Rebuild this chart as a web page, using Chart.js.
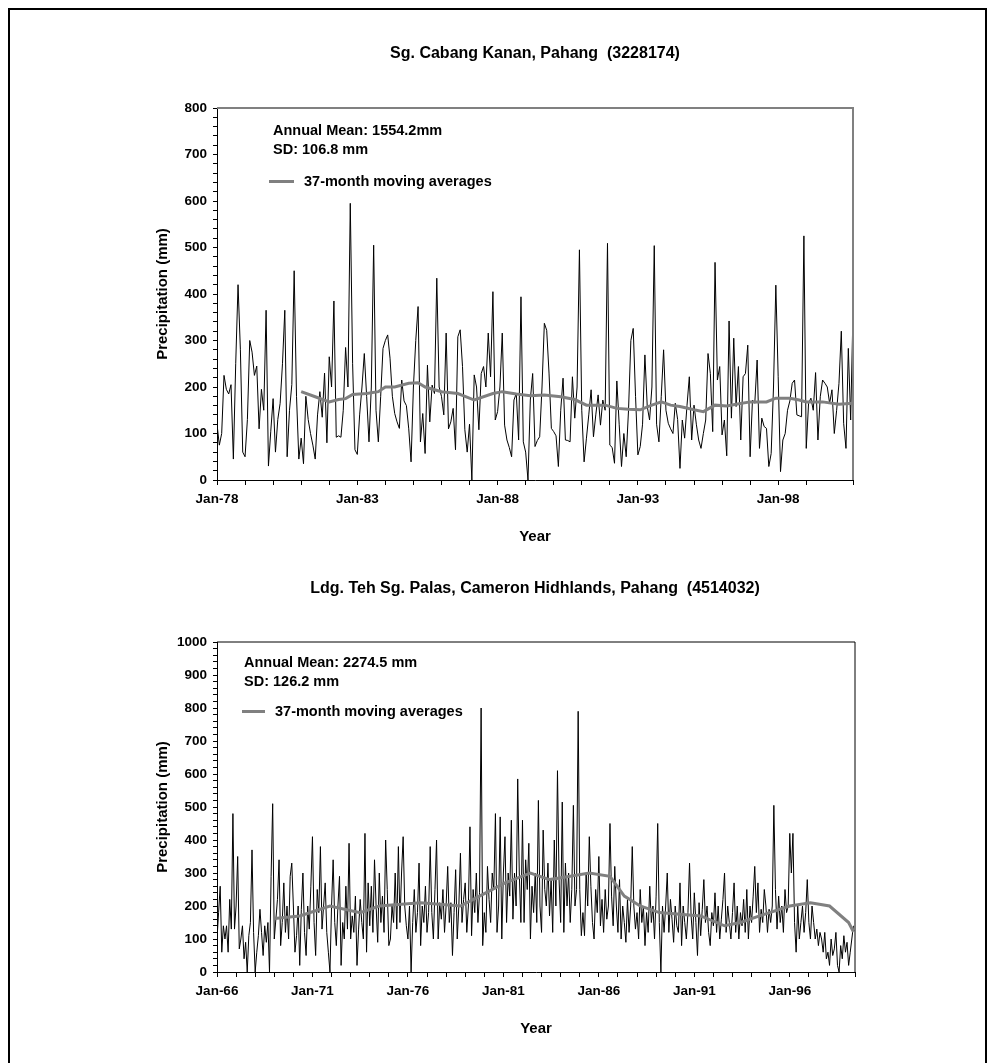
<!DOCTYPE html>
<html>
<head>
<meta charset="utf-8">
<script src="https://cdn.jsdelivr.net/npm/chart.js@4.4.0/dist/chart.umd.min.js"></script>
<style>
  body { margin: 0; background: #fff; }
  #page { position: relative; width: 995px; height: 1063px; overflow: hidden; font-family: "Liberation Sans", Arial, sans-serif; font-weight: bold; color: #000; }
  #frame { position: absolute; left: 8px; top: 8px; width: 979px; height: 1100px; border: 2px solid #000; box-sizing: border-box; }
  canvas { position: absolute; left: 0; }
  .title { position: absolute; left: 217px; width: 636px; text-align: center; font-size: 16px; line-height: 19px; white-space: pre; z-index: 2; }
  .note { position: absolute; font-size: 14.5px; line-height: 19px; z-index: 2; white-space: nowrap; }
  .key { display: inline-block; width: 25px; height: 3px; background: #808080; vertical-align: middle; margin-right: 10px; position: relative; top: -1px; }
</style>
</head>
<body>
<div id="page">
  <div id="frame"></div>
  <div class="title" style="top:43px">Sg. Cabang Kanan, Pahang  (3228174)</div>
  <div class="note" style="left:273px; top:121px">Annual Mean: 1554.2mm<br>SD: 106.8 mm</div>
  <div class="note" style="left:269px; top:172px"><span class="key"></span>37-month moving averages</div>
  <canvas id="topChart" width="995" height="560" style="top:0"></canvas>

  <div class="title" style="top:578px">Ldg. Teh Sg. Palas, Cameron Hidhlands, Pahang  (4514032)</div>
  <div class="note" style="left:244px; top:653px">Annual Mean: 2274.5 mm<br>SD: 126.2 mm</div>
  <div class="note" style="left:242px; top:702px"><span class="key" style="width:23px"></span>37-month moving averages</div>
  <canvas id="bottomChart" width="995" height="528" style="top:535px"></canvas>
</div>

<script>
// Sg. Cabang Kanan: monthly rainfall from Jan-78 (index = month number)
const topTickLabels = ['Jan-78', 'Jan-83', 'Jan-88', 'Jan-93', 'Jan-98'];
const topRain = [
  120, 75, 100, 225, 195, 185, 205, 45, 250, 420,
  280, 60, 50, 130, 300, 275, 225, 245, 110, 195,
  150, 365, 30, 105, 175, 60, 130, 165, 250, 365,
  50, 150, 205, 450, 180, 45, 90, 35, 180, 130,
  100, 75, 45, 140, 190, 135, 230, 80, 265, 200,
  385, 92, 95, 92, 150, 285, 200, 595, 250, 65,
  55, 140, 200, 272, 180, 82, 200, 505, 150, 82,
  180, 283, 300, 312, 262, 180, 143, 125, 111, 215,
  170, 160, 110, 39, 200, 300, 373, 82, 143, 57,
  247, 125, 204, 186, 434, 200, 180, 140, 316, 110,
  125, 154, 65, 308, 323, 244, 108, 60, 120, 0,
  226, 200, 108, 229, 244, 200, 316, 222, 405, 129,
  147, 200, 316, 118, 86, 70, 50, 172, 186, 86,
  394, 82, 60, 0, 172, 229, 72, 85, 93, 200,
  337, 322, 230, 111, 104, 95, 29, 150, 219, 86,
  85, 82, 222, 133, 200, 495, 150, 39, 90, 140,
  194, 93, 140, 183, 118, 172, 150, 509, 75, 70,
  36, 213, 120, 29, 100, 50, 150, 300, 326, 180,
  54, 72, 120, 269, 158, 129, 200, 504, 120, 82,
  180, 280, 150, 122, 110, 100, 165, 130, 25, 129,
  90, 160, 222, 86, 161, 120, 86, 68, 100, 129,
  272, 229, 104, 468, 215, 244, 97, 129, 52, 342,
  133, 305, 158, 244, 86, 222, 229, 290, 50, 172,
  165, 258, 68, 133, 115, 111, 29, 57, 200, 419,
  222, 18, 86, 100, 150, 170, 208, 215, 140, 138,
  136, 525, 68, 165, 176, 150, 231, 86, 179, 215,
  208, 200, 165, 194, 100, 150, 208, 320, 122, 68,
  283, 129, 362
];
const topAvgMonth = [36, 42, 48, 52, 55, 58, 64, 69, 72, 76, 82, 86, 89, 96, 103, 110, 118, 122, 128, 134,
  140, 147, 153, 158, 166, 171, 176, 181, 186, 190, 194, 198, 204, 208, 213, 218, 222, 228, 235, 239,
  245, 249, 252, 259, 266, 272];
const topAvgValue = [190, 179, 168, 173, 175, 184, 186, 190, 200, 200, 208, 209, 200, 190, 186, 172, 186, 190, 185, 181,
  183, 179, 173, 161, 161, 154, 152, 151, 161, 168, 161, 158, 151, 147, 161, 159, 163, 168, 168, 176,
  176, 172, 168, 168, 163, 165];

// Ldg. Teh Sg. Palas: monthly rainfall from Jan-66
const bottomTickLabels = ['Jan-66', 'Jan-71', 'Jan-76', 'Jan-81', 'Jan-86', 'Jan-91', 'Jan-96'];
const bottomRain = [
  100, 180, 260, 60, 140, 100, 140, 60, 220, 130,
  480, 130, 200, 350, 70, 100, 140, 40, 90, 0,
  110, 150, 370, 120, 0, 60, 110, 190, 120, 50,
  140, 90, 150, 0, 290, 510, 100, 160, 220, 340,
  80, 150, 270, 120, 200, 100, 290, 330, 200, 60,
  110, 200, 20, 190, 300, 120, 50, 200, 130, 260,
  410, 150, 50, 250, 180, 380, 130, 200, 270, 120,
  60, 0, 200, 340, 150, 80, 200, 290, 20, 150,
  100, 260, 130, 390, 100, 170, 120, 230, 20, 130,
  220, 150, 100, 420, 60, 270, 140, 260, 120, 340,
  200, 90, 300, 150, 230, 120, 400, 250, 80, 100,
  200, 150, 300, 130, 380, 150, 300, 410, 200, 140,
  100, 200, 0, 150, 250, 120, 180, 330, 80, 200,
  150, 260, 120, 180, 380, 180, 100, 250, 400, 100,
  210, 160, 250, 120, 200, 320, 150, 210, 50, 180,
  310, 100, 200, 360, 150, 220, 270, 120, 200, 440,
  110, 250, 180, 300, 150, 240, 800, 80, 180, 120,
  320, 220, 150, 300, 250, 480, 120, 200, 470, 100,
  300, 410, 150, 300, 230, 460, 160, 300, 200, 585,
  300, 150, 460, 150, 340, 250, 390, 100, 260, 180,
  300, 150, 520, 200, 120, 430, 250, 200, 330, 170,
  280, 120, 400, 200, 610, 280, 150, 515, 120, 330,
  200, 300, 150, 250, 505, 200, 250, 790, 250, 110,
  180, 110, 300, 200, 410, 260, 150, 100, 250, 180,
  350, 140, 220, 120, 250, 160, 200, 450, 230, 140,
  320, 200, 120, 280, 100, 200, 150, 90, 220, 120,
  200, 380, 200, 130, 180, 100, 250, 150, 200, 80,
  180, 120, 260, 150, 200, 100, 230, 450, 150, 0,
  200, 120, 200, 300, 120, 220, 160, 90, 200, 140,
  120, 270, 80, 200, 150, 100, 180, 330, 170, 100,
  240, 150, 50, 210, 110, 190, 280, 150, 200, 120,
  80, 180, 140, 240, 120, 200, 100, 160, 220, 300,
  120, 200, 150, 100, 180, 270, 120, 200, 100, 180,
  140, 220, 120, 250, 100, 200, 150, 230, 320, 180,
  270, 120, 190, 150, 250, 200, 120, 190, 150, 200,
  505, 250, 130, 230, 150, 200, 120, 250, 180, 200,
  420, 300, 420, 150, 60, 200, 100, 150, 200, 120,
  180, 280, 150, 100, 200, 150, 100, 130, 80, 120,
  100, 60, 120, 40, 60, 20, 100, 50, 70, 120,
  20, 0, 80, 40, 110, 60, 90, 20, 60, 100,
  140
];
const bottomAvgMonth = [36, 52, 71, 90, 102, 128, 153, 165, 181, 197, 209, 222, 234, 247, 256, 266, 278, 304, 319, 329, 341, 360, 373, 385, 397, 400];
const bottomAvgValue = [162, 170, 200, 180, 200, 210, 200, 230, 270, 300, 280, 290, 300, 290, 230, 200, 180, 170, 140, 150, 170, 200, 210, 200, 150, 122];

const fontFamily = '"Liberation Sans", Arial, sans-serif';

// top and right edges of the plot box
const boxPlugin = {
    id: 'box',
    afterDatasetsDraw(chart, args, opts) {
        const a = chart.chartArea;
        const c = chart.ctx;
        c.save();
        c.strokeStyle = opts.color;
        c.lineWidth = opts.width;
        c.beginPath();
        c.moveTo(a.left, a.top);
        c.lineTo(a.right, a.top);
        c.lineTo(a.right, a.bottom);
        c.stroke();
        c.restore();
    }
};

function makeChart(id, rain, avgMonth, avgValue, tickLabels, xMax, yMax, padding, boxColor, boxWidth) {
    const ctx = document.getElementById(id).getContext('2d');
    return new Chart(ctx, {
        type: 'line',
        data: {
            datasets: [
                {
                    data: avgMonth.map((m, i) => ({ x: m, y: avgValue[i] })),
                    borderColor: '#808080',
                    borderWidth: 3,
                    pointRadius: 0,
                    tension: 0,
                    order: 0
                },
                {
                    data: rain.map((v, i) => ({ x: i, y: v })),
                    borderColor: '#000',
                    borderWidth: 1,
                    pointRadius: 0,
                    tension: 0,
                    order: 1
                }
            ]
        },
        options: {
            responsive: false,
            animation: false,
            layout: { padding: padding },
            plugins: {
                legend: { display: false },
                tooltip: { enabled: false },
                box: { color: boxColor, width: boxWidth }
            },
            scales: {
                x: {
                    type: 'linear',
                    min: 0,
                    max: xMax,
                    ticks: {
                        stepSize: 12,
                        autoSkip: false,
                        maxRotation: 0,
                        padding: 6,
                        color: '#000',
                        font: { family: fontFamily, size: 13.5, weight: 'bold' },
                        callback: (v) => (v % 60 === 0 && tickLabels[v / 60]) ? tickLabels[v / 60] : ''
                    },
                    grid: { drawOnChartArea: false, tickLength: 5, color: '#000' },
                    border: { color: '#000', width: 1 },
                    title: {
                        display: true,
                        text: 'Year',
                        color: '#000',
                        font: { family: fontFamily, size: 15, weight: 'bold' },
                        padding: { top: 4, bottom: 4 }
                    },
                    afterFit: (s) => { s.height = 70; }
                },
                y: {
                    min: 0,
                    max: yMax,
                    ticks: {
                        stepSize: 20,
                        autoSkip: false,
                        padding: 6,
                        color: '#000',
                        font: { family: fontFamily, size: 13.5, weight: 'bold' },
                        callback: (v) => (v % 100 === 0) ? String(v) : ''
                    },
                    grid: { drawOnChartArea: false, tickLength: 4, color: '#000' },
                    border: { color: '#000', width: 1 },
                    title: {
                        display: true,
                        text: 'Precipitation (mm)',
                        color: '#000',
                        font: { family: fontFamily, size: 15, weight: 'bold' },
                        padding: { top: 4, bottom: 4 }
                    },
                    afterFit: (s) => { s.width = 67; }
                }
            }
        },
        plugins: [boxPlugin]
    });
}

const topChart = makeChart('topChart', topRain, topAvgMonth, topAvgValue, topTickLabels, 272, 800,
    { left: 150, right: 142, top: 108, bottom: 10 }, '#808080', 2);
const bottomChart = makeChart('bottomChart', bottomRain, bottomAvgMonth, bottomAvgValue, bottomTickLabels, 401, 1000,
    { left: 150, right: 140, top: 107, bottom: 21 }, '#000', 1);
</script>
</body>
</html>
